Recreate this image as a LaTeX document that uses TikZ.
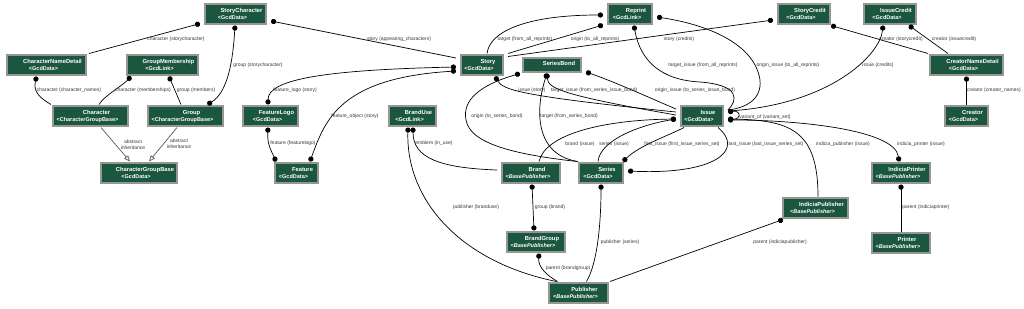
\documentclass[tikz,border=0pt]{standalone}
\usepackage{fontspec}
\setmainfont{Liberation Sans}
\usetikzlibrary{arrows.meta,calc}
\definecolor{boxgreen}{HTML}{1B563F}
\definecolor{boxborder}{RGB}{150,150,150}
\definecolor{lblcol}{RGB}{55,55,55}
\tikzset{
  box/.style={draw=boxborder, line width=1.1pt, fill=boxgreen, minimum height=20pt, inner sep=0pt, outer xsep=5pt, outer ysep=1.5pt},
  ttl/.style={anchor=base, text=white, inner sep=0pt, font=\fontsize{5.8}{7}\selectfont\bfseries},
  ster/.style={anchor=base, text=white, inner sep=0pt, font=\fontsize{5.5}{7}\selectfont\bfseries},
  rel/.style={draw=black, line width=0.7pt},
  dotstart/.style={rel, {Circle[length=5.2pt]}-},
  dotend/.style={rel, -{Circle[length=5.2pt]}},
  dotboth/.style={rel, {Circle[length=5.2pt]}-{Circle[length=5.2pt]}},
  inh/.style={draw=black!65, line width=0.7pt, -{Triangle[open,length=6pt,width=5pt]}},
  lbl/.style={font=\fontsize{5}{6}\selectfont, text=lblcol, inner sep=0pt, align=center},
}
\newcommand\umlcls[7]{%
  \node[box, minimum width=#4pt] (#1) at (#2,#3) {};
  \node[ttl] (#1-t) at ($(#1.center)+(6,-1.2)$) {#5};
  \node[ster] (#1-s) at ($(#1.center)+(-3,5.3)$) {#7<#6>};
}
\begin{document}
\begin{tikzpicture}[x=1pt,y=-1pt]
\useasboundingbox (0,0) rectangle (1024,308);
% ---------- classes ----------
\umlcls{StoryCharacter}{235.5}{14}{61}{StoryCharacter}{GcdData}{}
\umlcls{CharacterNameDetail}{46.5}{65}{79}{CharacterNameDetail}{GcdData}{}
\umlcls{GroupMembership}{162.5}{65}{71}{GroupMembership}{GcdLink}{}
\umlcls{Character}{90.5}{116}{75}{Character}{CharacterGroupBase}{}
\umlcls{Group}{185.5}{116}{75}{Group}{CharacterGroupBase}{}
\umlcls{CharacterGroupBase}{139}{173}{76}{CharacterGroupBase}{GcdData}{}
\umlcls{FeatureLogo}{270.5}{116}{55}{FeatureLogo}{GcdData}{}
\umlcls{Feature}{296.5}{173}{43}{Feature}{GcdData}{}
\umlcls{BrandUse}{412.5}{116}{47}{BrandUse}{GcdLink}{}
\umlcls{Story}{482}{65}{42}{Story}{GcdData}{}
\node[box, minimum width=58pt, minimum height=14pt] (SeriesBond) at (552,65) {};
\node[ttl] (SeriesBond-t) at ($(SeriesBond.center)+(7,0.9)$) {SeriesBond};
\umlcls{Reprint}{630}{14}{44}{Reprint}{GcdLink}{}
\umlcls{Issue}{702}{116}{42}{Issue}{GcdData}{}
\umlcls{Brand}{531}{173}{58}{Brand}{BasePublisher}{\itshape}
\umlcls{Series}{601}{173}{44}{Series}{GcdData}{}
\umlcls{StoryCredit}{804}{14}{52}{StoryCredit}{GcdData}{}
\umlcls{IssueCredit}{890}{14}{52}{IssueCredit}{GcdData}{}
\umlcls{CreatorNameDetail}{966.5}{65}{73}{CreatorNameDetail}{GcdData}{}
\umlcls{Creator}{966.5}{116}{43}{Creator}{GcdData}{}
\umlcls{IndiciaPrinter}{901}{173}{58}{IndiciaPrinter}{BasePublisher}{\itshape}
\umlcls{IndiciaPublisher}{815.5}{208}{65}{IndiciaPublisher}{BasePublisher}{\itshape}
\umlcls{Printer}{901}{243}{58}{Printer}{BasePublisher}{\itshape}
\umlcls{BrandGroup}{536}{242}{58}{BrandGroup}{BasePublisher}{\itshape}
\umlcls{Publisher}{578.5}{293}{59}{Publisher}{BasePublisher}{\itshape}
% ---------- connectors ----------
\draw[dotstart] (StoryCharacter) -- (CharacterNameDetail);
\draw[dotboth] ($(StoryCharacter.south)+(-0.5,0)$) .. controls (233,60) and (228,92) .. ($(Group.north)+(22,0)$);
\draw[dotstart] ($(CharacterNameDetail.south)+(-10,0)$) .. controls (33,92) and (40,98) .. ($(Character.north west)+(3,0)$);
\draw[dotstart] ($(GroupMembership.south west)+(9,0)$) .. controls (122,86) and (104,96) .. ($(Character.north)+(8.5,0)$);
\draw[dotstart] ($(GroupMembership.south)+(6.5,0)$) -- ($(Group.north)+(-4.5,0)$);
\draw[inh] ($(Character.south)+(10.5,0)$) -- ($(CharacterGroupBase.north)+(-9,0)$);
\draw[inh] ($(Group.south)+(-8.5,0)$) -- ($(CharacterGroupBase.north)+(10,0)$);
\draw[dotstart] ($(StoryCharacter.east)+(0,7)$) -- ($(Story.west)+(0,-7)$);
\draw[dotboth] ($(FeatureLogo.north)+(-2.5,0)$) .. controls (268,80) and (320,70) .. ($(Story.west)+(0,2)$);
\draw[dotboth] ($(Feature.north)+(13.5,0)$) .. controls (325,120) and (340,78) .. ($(Story.west)+(0,6)$);
\draw[dotboth] ($(FeatureLogo.south)+(-2.5,0)$) .. controls (267,145) and (272,152) .. ($(Feature.north)+(-20.5,0)$);
\draw[dotstart] ($(BrandUse.south)+(0.5,0)$) .. controls (413,158) and (440,168) .. ($(Brand.west)+(0,-3)$);
\draw[dotstart] ($(BrandUse.south)+(-4.5,0)$) .. controls (406,200) and (460,262) .. ($(Publisher.north)+(-22,0)$);
\draw[dotboth] ($(Brand.south)+(1,0)$) -- ($(BrandGroup.north)+(-2,0)$);
\draw[dotstart] ($(BrandGroup.south)+(3,0)$) .. controls (538,268) and (548,276) .. ($(Publisher.north)+(-21,0)$);
\draw[dotstart] (Series.south) .. controls (601,220) and (598,262) .. ($(Publisher.north)+(8,0)$);
\draw[dotstart] ($(IndiciaPublisher.south west)+(5,0)$) -- ($(Publisher.north east)+(-3,0)$);
\draw[dotstart] (IndiciaPrinter.south) -- (Printer.north);
\draw[dotboth] ($(Issue.east)+(0,4)$) .. controls (800,120) and (895,130) .. ($(IndiciaPrinter.north)+(-2,0)$);
\draw[dotstart] ($(Issue.east)+(0,3)$) .. controls (790,120) and (818,130) .. ($(IndiciaPublisher.north)+(2.5,0)$);
\draw[dotend] ($(Issue.south)+(16,0)$) .. controls (745,150) and (715,175) .. ($(Series.east)+(0,-2)$);
\draw[dotend] ($(Issue.south)+(-18,0)$) .. controls (670,135) and (640,145) .. ($(Series.north east)+(-5,0)$);
\draw[dotstart] ($(Issue.west)+(0,3)$) .. controls (640,125) and (600,140) .. ($(Series.north)+(-3,0)$);
\draw[dotstart] ($(Issue.west)+(0,3)$) .. controls (600,120) and (545,135) .. ($(Brand.north)+(8,0)$);
\draw[dotstart] ($(Story.south)+(13,0)$) .. controls (503,90) and (520,96) .. ($(Issue.west)+(0,-4)$);
\draw[dotstart] ($(SeriesBond.south)+(-5,0)$) .. controls (548,88) and (560,95) .. ($(Issue.west)+(0,-1)$);
\draw[dotstart] ($(SeriesBond.south)+(-5,0)$) .. controls (535,110) and (535,155) .. ($(Series.north west)+(4,0)$);
\draw[dotstart] ($(SeriesBond.south west)+(2,0)$) .. controls (480,85) and (462,100) .. (466,120) .. controls (470,145) and (520,155) .. ($(Series.north west)+(3,0)$);
\draw[dotstart] ($(SeriesBond.east)+(0,7)$) .. controls (615,82) and (650,98) .. ($(Issue.west)+(0,-7)$);
\draw[dotend] ($(Story.north)+(5,0)$) .. controls (490,30) and (530,15) .. ($(Reprint.west)+(0,1)$);
\draw[dotend] (Story.north east) -- ($(Reprint.west)+(0,11)$);
\draw[dotstart] ($(StoryCredit.west)+(0,6)$) -- ($(Story.north east)+(0,3)$);
\draw[dotstart] ($(Reprint.south)+(4,0)$) .. controls (640,60) and (660,80) .. (700,82) .. controls (740,85) and (738,100) .. ($(Issue.east)+(0,-6)$);
\draw[dotstart] ($(Reprint.east)+(0,3)$) .. controls (710,25) and (755,45) .. (760,80) .. controls (762,100) and (745,108) .. ($(Issue.east)+(0,-6)$);
\draw[dotstart] ($(IssueCredit.south)+(-7,0)$) .. controls (880,55) and (830,105) .. ($(Issue.east)+(0,-5)$);
\draw[dotstart] ($(IssueCredit.south)+(19,0)$) -- ($(CreatorNameDetail.north)+(-18.5,0)$);
\draw[dotstart] ($(StoryCredit.south east)+(-4,0)$) -- ($(CreatorNameDetail.north west)+(3,0)$);
\draw[dotstart] (CreatorNameDetail.south) -- (Creator.north);
\draw[dotstart] ($(Issue.east)+(0,-4)$) .. controls (742,110) and (742,122) .. ($(Issue.east)+(0,3)$);
% ---------- labels ----------
\node[lbl] (l1) at (176,39) {character (storycharacter)};
\node[lbl] (l2) at (258,65) {group (storycharacter)};
\node[lbl] (l3) at (69,90) {character (character\_names)};
\node[lbl] (l4) at (143,90) {character (memberships)};
\node[lbl] (l5) at (196,90) {group (members)};
\node[lbl] (l6) at (133,145) {abstract\\inheritance};
\node[lbl] (l7) at (179,144) {abstract\\inheritance};
\node[lbl] (l8) at (399,39) {story (appearing\_characters)};
\node[lbl] (l9) at (295,90) {feature\_logo (story)};
\node[lbl] (l10) at (355,116) {feature\_object (story)};
\node[lbl] (l11) at (293,143) {feature (featurelogo)};
\node[lbl] (l12) at (434,143) {emblem (in\_use)};
\node[lbl] (l13) at (476,207) {publisher (branduse)};
\node[lbl] (l14) at (550,207) {group (brand)};
\node[lbl] (l15) at (568,268) {parent (brandgroup)};
\node[lbl] (l16) at (620,242) {publisher (series)};
\node[lbl] (l17) at (780,242) {parent (indiciapublisher)};
\node[lbl] (l18) at (926,207) {parent (indiciaprinter)};
\node[lbl] (l19) at (921,144) {indicia\_printer (issue)};
\node[lbl] (l20) at (843,144) {indicia\_publisher (issue)};
\node[lbl] (l21) at (766,144) {last\_issue (last\_issue\_series\_set)};
\node[lbl] (l22) at (682,144) {first\_issue (first\_issue\_series\_set)};
\node[lbl] (l23) at (614,144) {series (issue)};
\node[lbl] (l24) at (580,144) {brand (issue)};
\node[lbl] (l25) at (532,90) {issue (story)};
\node[lbl] (l26) at (594,90) {target\_issue (from\_series\_issue\_bond)};
\node[lbl] (l27) at (569,116) {target (from\_series\_bond)};
\node[lbl] (l28) at (497,116) {origin (to\_series\_bond)};
\node[lbl] (l29) at (695,90) {origin\_issue (to\_series\_issue\_bond)};
\node[lbl] (l30) at (525,39) {target (from\_all\_reprints)};
\node[lbl] (l31) at (595,39) {origin (to\_all\_reprints)};
\node[lbl] (l32) at (679,39) {story (credits)};
\node[lbl] (l33) at (703,65) {target\_issue (from\_all\_reprints)};
\node[lbl] (l34) at (788,65) {origin\_issue (to\_all\_reprints)};
\node[lbl] (l35) at (878,65) {issue (credits)};
\node[lbl] (l36) at (954,39) {creator (issuecredit)};
\node[lbl] (l37) at (901,39) {creator (storycredit)};
\node[lbl] (l38) at (994,90) {creator (creator\_names)};
\node[lbl] (l39) at (765,117) {variant\_of (variant\_set)};
\end{tikzpicture}
\end{document}
